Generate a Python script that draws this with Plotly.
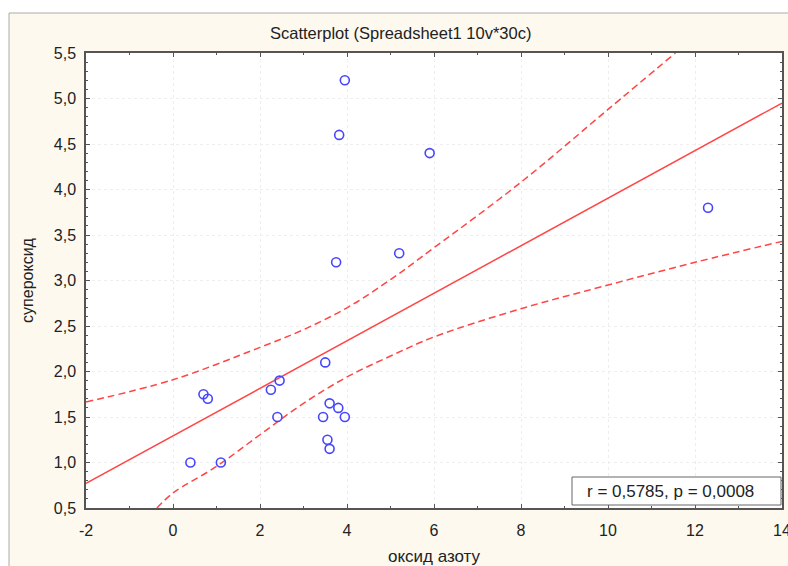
import plotly.graph_objects as go

# Data
nitric_oxide = [3.95, 3.82, 5.9, 12.3, 5.2, 3.75, 3.5, 0.7, 0.8, 2.25,
                2.45, 2.4, 0.4, 1.1, 3.45, 3.6, 3.8, 3.95, 3.55, 3.6]
superoxide = [5.2, 4.6, 4.4, 3.8, 3.3, 3.2, 2.1, 1.75, 1.7, 1.8,
              1.9, 1.5, 1.0, 1.0, 1.5, 1.65, 1.6, 1.5, 1.25, 1.15]

fit_x = [-2, 14]
fit_y = [0.77, 4.95]

upper_x = [-2, 0, 2, 3, 4, 5, 6, 8, 10, 11.55]
upper_y = [1.665, 1.91, 2.265, 2.46, 2.70, 3.01, 3.36, 4.08, 4.88, 5.5]

lower_x = [-0.37, 0, 1, 2, 3, 4, 5, 6, 8, 10, 12, 14]
lower_y = [0.5, 0.665, 0.957, 1.305, 1.65, 1.94, 2.17, 2.38, 2.69, 2.95, 3.20, 3.43]

x_ticks = [-2, 0, 2, 4, 6, 8, 10, 12, 14]
x_tick_labels = ["-2", "0", "2", "4", "6", "8", "10", "12", "14"]
y_ticks = [0.5, 1.0, 1.5, 2.0, 2.5, 3.0, 3.5, 4.0, 4.5, 5.0, 5.5]

title_text = "Scatterplot (Spreadsheet1 10v*30c)"
x_title = "оксид азоту"
y_title = "супероксид"
stat_text = "r = 0,5785, p = 0,0008"

RED = "rgb(255,70,70)"
BLUE = "rgb(70,70,255)"
BEIGE = "#fdf9ee"
AXIS = "#555555"
TXT = "#222222"
FONT = "Liberation Sans, Arial, sans-serif"

fig = go.Figure()
fig.add_trace(go.Scatter(x=upper_x, y=upper_y, mode="lines",
                         line=dict(color=RED, width=1.5, dash="7px,4px", shape="spline"),
                         hoverinfo="skip"))
fig.add_trace(go.Scatter(x=lower_x, y=lower_y, mode="lines",
                         line=dict(color=RED, width=1.5, dash="7px,4px", shape="spline"),
                         hoverinfo="skip"))
fig.add_trace(go.Scatter(x=fit_x, y=fit_y, mode="lines",
                         line=dict(color=RED, width=1.5)))
fig.add_trace(go.Scatter(x=nitric_oxide, y=superoxide, mode="markers",
                         marker=dict(symbol="circle-open", size=9, color=BLUE,
                                     line=dict(width=1.6, color=BLUE))))

# plot area: left 86, right 782, top 53, bottom 508 (px)
W, H = 788, 566
L, R, T, B = 86, 6, 53, 58
pw = W - L - R
ph = H - T - B

def px2paper_x(px):
    return (px - L) / pw

def px2paper_y(py):
    return (H - B - py) / ph

shapes = [
    dict(type="rect", xref="paper", yref="paper", layer="below",
         x0=px2paper_x(9), x1=px2paper_x(800), y0=px2paper_y(580), y1=px2paper_y(13),
         fillcolor=BEIGE, line=dict(color="#aaaaaa", width=1)),
    dict(type="rect", xref="paper", yref="paper", layer="below",
         x0=0, x1=1, y0=0, y1=1, fillcolor="white", line=dict(width=0)),
    dict(type="rect", xref="paper", yref="paper", layer="above",
         x0=px2paper_x(572), x1=px2paper_x(781), y0=px2paper_y(505), y1=px2paper_y(477),
         fillcolor="white", line=dict(color="#666666", width=1)),
]

annotations = [
    dict(text=title_text, xref="paper", yref="paper", x=px2paper_x(400), y=px2paper_y(33),
         xanchor="center", yanchor="middle", showarrow=False,
         font=dict(family=FONT, size=16.5, color=TXT)),
    dict(text=stat_text, xref="paper", yref="paper", x=px2paper_x(585), y=px2paper_y(491),
         xanchor="left", yanchor="middle", showarrow=False,
         font=dict(family=FONT, size=17, color=TXT)),
]

axis_common = dict(showline=True, linecolor=AXIS, linewidth=1.5, mirror="ticks",
                   ticks="inside", tickcolor=AXIS, ticklen=4, tickwidth=1,
                   showgrid=True, gridcolor="#eeeeee", griddash="dot", gridwidth=1,
                   zeroline=False, tickfont=dict(family=FONT, size=16, color=TXT),
                   ticklabeloverflow="allow", automargin=False)

fig.update_xaxes(range=[-2, 14], tickvals=x_ticks, ticktext=x_tick_labels,
                 ticklabelstandoff=7,
                 minor=dict(dtick=1, ticks="inside", ticklen=2, tickcolor=AXIS, showgrid=False),
                 title=dict(text=x_title, font=dict(family=FONT, size=17, color=TXT),
                            standoff=16),
                 **axis_common)
fig.update_yaxes(range=[0.5, 5.5], tickvals=y_ticks, tickformat=".1f", ticklabelstandoff=5,
                 minor=dict(dtick=0.1, ticks="inside", ticklen=2, tickcolor=AXIS, showgrid=False),
                 title=dict(text=y_title, font=dict(family=FONT, size=16, color=TXT),
                            standoff=16),
                 **axis_common)

fig.update_layout(width=W, height=H, margin=dict(l=L, r=R, t=T, b=B, pad=0, autoexpand=False),
                  paper_bgcolor="white", plot_bgcolor="rgba(0,0,0,0)",
                  showlegend=False, separators=", ",
                  shapes=shapes, annotations=annotations,
                  font=dict(family=FONT))

fig.write_html("out.html", config={"displayModeBar": False},
               post_script="document.body.style.margin='0';document.body.style.overflow='hidden';")
